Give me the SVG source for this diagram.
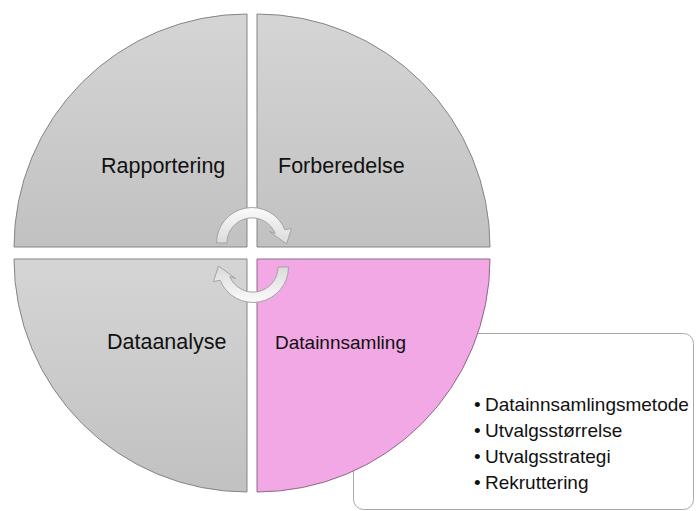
<svg xmlns="http://www.w3.org/2000/svg" width="696" height="511" viewBox="0 0 696 511">
  <defs>
    <linearGradient id="gray" x1="0" y1="0" x2="0" y2="1">
      <stop offset="0" stop-color="#d5d5d5"/>
      <stop offset="1" stop-color="#c1c1c1"/>
    </linearGradient>
    <linearGradient id="arrowFill" x1="0" y1="0" x2="0" y2="1">
      <stop offset="0" stop-color="#fbfbfb"/>
      <stop offset="1" stop-color="#dadada"/>
    </linearGradient>
    <style>
      .quad { fill: url(#gray); stroke: #858585; stroke-width: 1; }
      .pink { fill: #f1a8e4; stroke: #8e6a88; stroke-width: 1; }
      .label { font-family: "Liberation Sans", Arial, sans-serif; font-size: 21.5px; fill: #111111; }
      .label2 { font-family: "Liberation Sans", Arial, sans-serif; font-size: 19px; fill: #111111; }
      .arrow { fill: url(#arrowFill); stroke: #a3a3a3; stroke-width: 1; }
      .box { fill: #ffffff; stroke: #a8a8a8; stroke-width: 1; }
    </style>
  </defs>
  <rect width="696" height="511" fill="#ffffff"/>

  <g id="callout">
    <rect class="box" x="353.5" y="333.5" width="340" height="176" rx="10" ry="10"/>
    <text class="label2" x="474" y="410.5">•</text>
    <text class="label2" x="485" y="410.5">Datainnsamlingsmetode</text>
    <text class="label2" x="474" y="436.5">•</text>
    <text class="label2" x="485" y="436.5">Utvalgsstørrelse</text>
    <text class="label2" x="474" y="462.5">•</text>
    <text class="label2" x="485" y="462.5">Utvalgsstrategi</text>
    <text class="label2" x="474" y="488.5">•</text>
    <text class="label2" x="485" y="488.5">Rekruttering</text>
  </g>

  <g id="rapportering">
    <path class="quad" d="M247,247 L14,247 A233,233 0 0 1 247,14 Z"/>
    <text class="label" x="101" y="173">Rapportering</text>
  </g>
  <g id="forberedelse">
    <path class="quad" d="M257,247 L257,14 A233,233 0 0 1 490,247 Z"/>
    <text class="label" x="278" y="173">Forberedelse</text>
  </g>
  <g id="datainnsamling">
    <path class="pink" d="M257,259 L490,259 A233,233 0 0 1 257,492 Z"/>
    <text class="label2" x="275" y="349">Datainnsamling</text>
  </g>
  <g id="dataanalyse">
    <path class="quad" d="M247,259 L247,492 A233,233 0 0 1 14,259 Z"/>
    <text class="label" x="107" y="349">Dataanalyse</text>
  </g>

  <g id="connectors">
    <path id="arrowTop" class="arrow" d="M216.5,243 A35.5,35.5 0 0 1 284.9,229.7 L291.5,228.5 L286.5,244 L269.5,231.5 L275.2,233.6 A25,25 0 0 0 227,243 Z"/>
    <path id="arrowBottom" class="arrow" transform="rotate(180 252.5 255)" d="M216.5,243 A35.5,35.5 0 0 1 284.9,229.7 L291.5,228.5 L286.5,244 L269.5,231.5 L275.2,233.6 A25,25 0 0 0 227,243 Z"/>
  </g>
</svg>
